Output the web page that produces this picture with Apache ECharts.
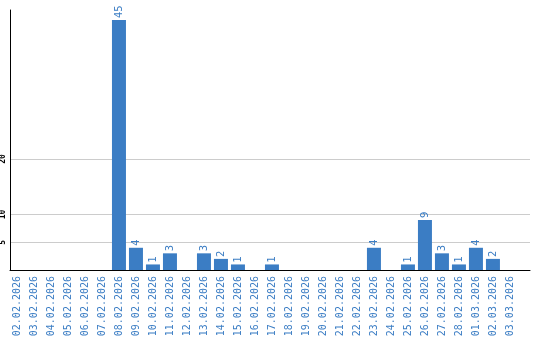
<!DOCTYPE html>
<html><head><meta charset="utf-8">
<script src="https://cdn.jsdelivr.net/npm/echarts@6/dist/echarts.min.js"></script>
<style>html,body{margin:0;padding:0;background:#fff}#c{width:540px;height:340px}</style>
</head><body><div id="c"></div>
<script>
var categories = ['02.02.2026','03.02.2026','04.02.2026','05.02.2026','06.02.2026','07.02.2026','08.02.2026','09.02.2026','10.02.2026','11.02.2026','12.02.2026','13.02.2026','14.02.2026','15.02.2026','16.02.2026','17.02.2026','18.02.2026','19.02.2026','20.02.2026','21.02.2026','22.02.2026','23.02.2026','24.02.2026','25.02.2026','26.02.2026','27.02.2026','28.02.2026','01.03.2026','02.03.2026','03.03.2026'];
var values = [0,0,0,0,0,0,45,4,1,3,0,3,2,1,0,1,0,0,0,0,0,4,0,1,9,3,1,4,2,0];
var yTickLabels = [5,10,20];

var blue = '#3b7dc4';
var chart = echarts.init(document.getElementById('c'), null, {renderer:'canvas'});
var idx = categories.map(function(_, i){ return i; });
var gridColors = [];
for (var k = 0; k <= 12; k++) gridColors.push(yTickLabels.indexOf(k*5) >= 0 ? '#cccccc' : 'rgba(0,0,0,0)');
chart.setOption({
  animation: false,
  grid: {left: 10, right: 10, top: 10, bottom: 70, containLabel: false, outerBoundsMode: 'none'},
  xAxis: {
    type: 'value', min: -0.41, max: 30.18,
    axisLine: {show: true, onZero: false, lineStyle: {color: '#000', width: 1}},
    axisTick: {show: false},
    splitLine: {show: false},
    axisLabel: {
      customValues: idx, rotate: 90, margin: 6,
      color: blue, fontSize: 10, fontFamily: 'DejaVu Sans Mono',
      formatter: function(v){ return categories[Math.round(v)] || ''; }
    }
  },
  yAxis: {
    type: 'value', min: 0, max: 46.8, interval: 5,
    axisLine: {show: true, onZero: false, lineStyle: {color: '#000', width: 1}},
    axisTick: {show: false},
    splitLine: {show: true, lineStyle: {color: gridColors, width: 1}},
    axisLabel: {
      rotate: 90, margin: 3, color: '#000', fontSize: 8, fontWeight: 'bold',
      fontFamily: 'DejaVu Sans Mono', showMaxLabel: false,
      formatter: function(v){ return yTickLabels.indexOf(v) >= 0 ? String(v) : ''; }
    }
  },
  series: [{
    type: 'bar', barWidth: 14,
    itemStyle: {color: blue},
    label: {
      show: true, position: 'top', rotate: 90, align: 'left', verticalAlign: 'middle',
      distance: 2, color: blue, fontSize: 10, fontFamily: 'DejaVu Sans',
      formatter: function(p){ return p.value[1] ? String(p.value[1]) : ''; }
    },
    data: values.map(function(v, i){ return [i, v]; })
  }]
});
</script></body></html>
